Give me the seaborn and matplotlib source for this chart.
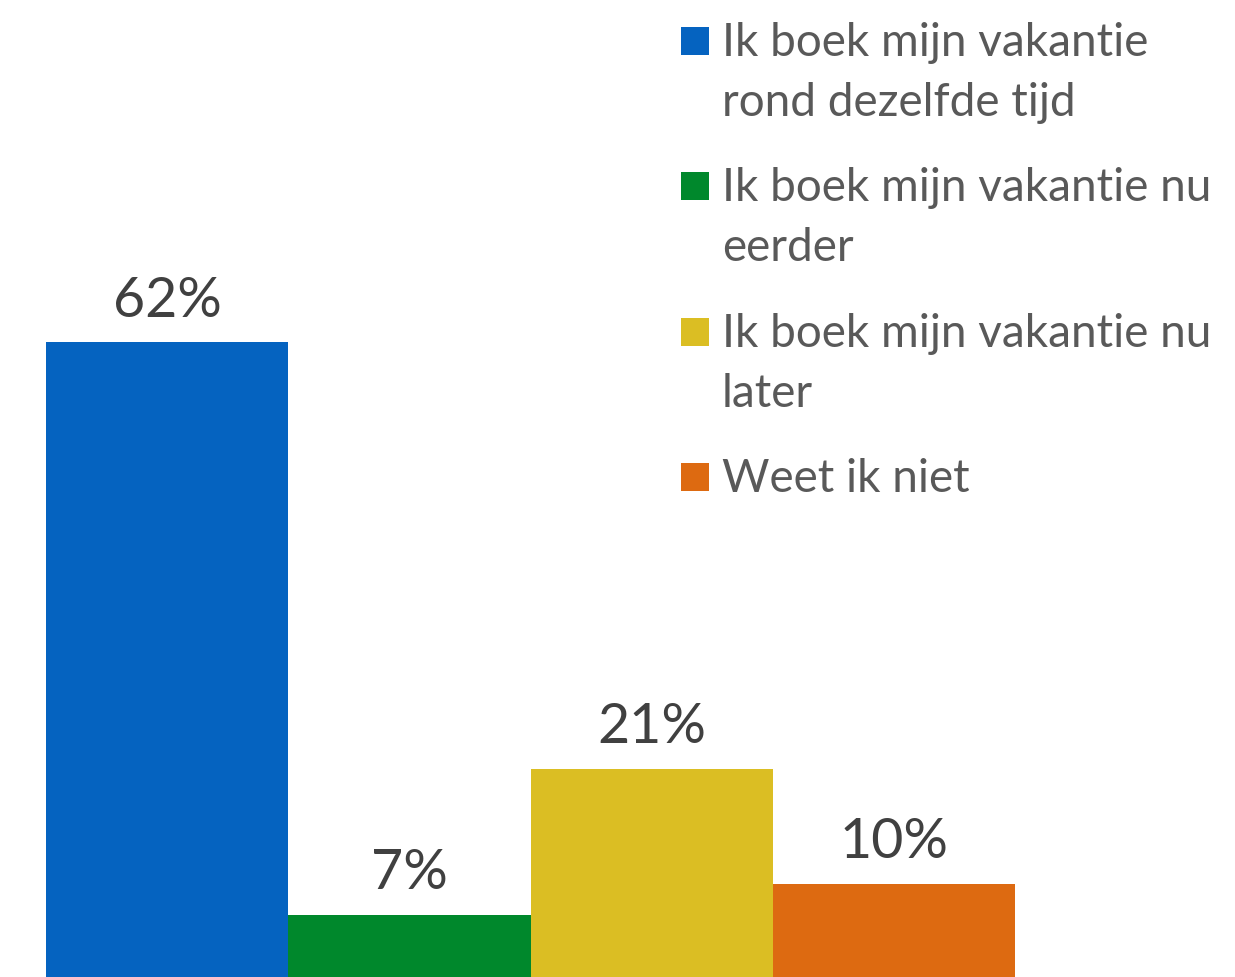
import matplotlib
matplotlib.use("Agg")
from matplotlib import pyplot as plt
from matplotlib.patches import Rectangle
import seaborn as sns

# answers and shares (percent)
categories = [
    "Ik boek mijn vakantie rond dezelfde tijd",
    "Ik boek mijn vakantie nu eerder",
    "Ik boek mijn vakantie nu later",
    "Weet ik niet",
]
legend_lines = [
    ["Ik boek mijn vakantie", "rond dezelfde tijd"],
    ["Ik boek mijn vakantie nu", "eerder"],
    ["Ik boek mijn vakantie nu", "later"],
    ["Weet ik niet"],
]
values = [62, 7, 21, 10]
colors = ["#0563C0", "#00882C", "#DBBE23", "#DD6A11"]

sns.set_style("white")
plt.rcParams['font.family'] = ['Lato', 'DejaVu Sans']

W, H = 1235, 978
fig = plt.figure(figsize=(W / 100, H / 100), dpi=100)
ax = fig.add_axes([0, 0, 1, 1])

sns.barplot(x=categories, y=values, hue=categories, palette=colors,
            width=1, legend=False, saturation=1, linewidth=0, ax=ax)

for cont in ax.containers:
    ax.bar_label(cont, labels=[f"{int(round(v))}%" for v in cont.datavalues],
                 padding=12, fontsize=40, color="#404040")

ax.set_xlim(-0.690, 4.408)
ax.set_ylim(1.02, 94.97)
ax.axis("off")

# legend, drawn by hand so the square sits on the first line
base = [56, 201, 347, 492]
for lines, col, b in zip(legend_lines, colors, base):
    fig.patches.append(Rectangle((681 / W, 1 - b / H), 28 / W, 28 / H,
                                 transform=fig.transFigure, color=col, lw=0))
    for k, line in enumerate(lines):
        fig.text(722 / W, 1 - (b + 60 * k) / H, line, fontsize=33,
                 color="#595959", va="baseline", ha="left")

fig.savefig("out.png", dpi=100)
